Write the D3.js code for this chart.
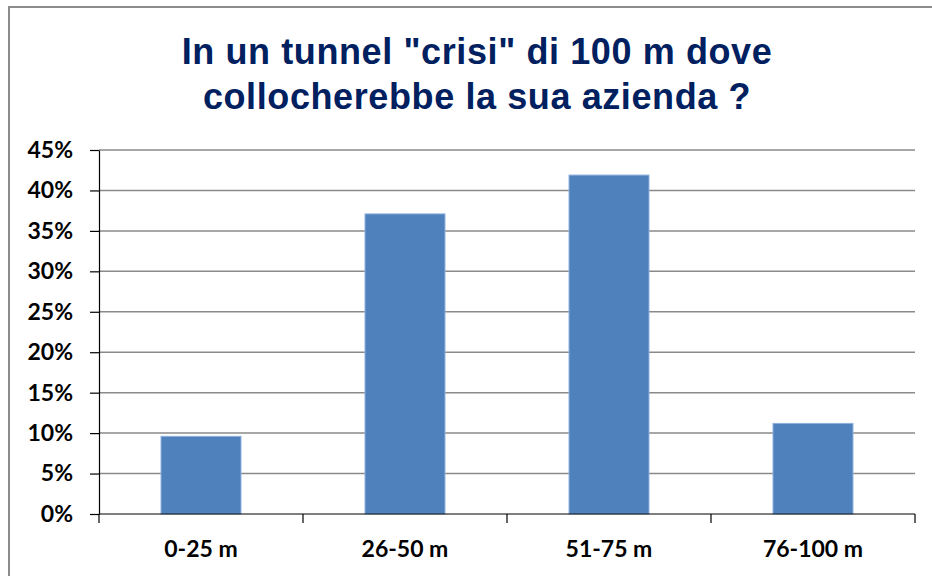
<!DOCTYPE html>
<head>
<meta charset="utf-8">
<title>Tunnel crisi</title>
<style>
body { margin: 0; background: #fff; }
.bar { fill: #4f81bd; stroke: #8eb0dc; stroke-width: 1; }
.grid line { stroke: #8a8a8a; stroke-width: 1.5; }
.axis text { font-family: Lato, "Liberation Sans", sans-serif; font-weight: bold; font-size: 23px; fill: #000; }
.axis path, .axis line { stroke: #000; stroke-width: 1.2; }
.title { font-family: "Liberation Sans", Arial, sans-serif; font-weight: bold; font-size: 36px; letter-spacing: 0.6px; fill: #002060; }
</style>
</head>
<body>
<script src="https://d3js.org/d3.v7.min.js"></script>
<script>

// data
var categories = ["0-25 m", "26-50 m", "51-75 m", "76-100 m"];
var shares = [0.096, 0.371, 0.419, 0.112];
var yTicks = [0, 0.05, 0.10, 0.15, 0.20, 0.25, 0.30, 0.35, 0.40, 0.45];
var titleLines = ["In un tunnel \"crisi\" di 100 m dove", "collocherebbe la sua azienda ?"];

var W = 932, H = 576;
var margin = {top: 150, right: 17, bottom: 62, left: 99},
    width = W - margin.left - margin.right,
    height = H - margin.top - margin.bottom;

var svg = d3.select("body").append("svg")
    .attr("width", W)
    .attr("height", H);

// outer frame
svg.append("rect")
    .attr("x", 9).attr("y", 7)
    .attr("width", W).attr("height", H)
    .attr("fill", "none")
    .attr("stroke", "#8c8c8c")
    .attr("stroke-width", 2);

// title
svg.append("text")
    .attr("class", "title")
    .attr("text-anchor", "middle")
    .selectAll("tspan")
    .data(titleLines)
  .enter().append("tspan")
    .attr("x", 477)
    .attr("y", function(d, i) { return 64 + i * 45; })
    .text(function(d) { return d; });

var g = svg.append("g")
    .attr("transform", "translate(" + margin.left + "," + margin.top + ")");

var x = d3.scaleBand()
    .domain(categories)
    .range([0, width]);
var xBar = d3.scaleBand()
    .domain(categories)
    .range([0, width])
    .paddingInner(0.608)
    .paddingOuter(0.304);
var y = d3.scaleLinear()
    .domain([0, 0.45])
    .range([height, 0]);

// gridlines
g.append("g")
    .attr("class", "grid")
    .selectAll("line")
    .data(yTicks.slice(1))
  .enter().append("line")
    .attr("x1", 0).attr("x2", width)
    .attr("y1", function(d) { return y(d); })
    .attr("y2", function(d) { return y(d); });

// bars
g.selectAll(".bar")
    .data(shares)
  .enter().append("rect")
    .attr("class", "bar")
    .attr("x", function(d, i) { return xBar(categories[i]); })
    .attr("width", xBar.bandwidth())
    .attr("y", function(d) { return y(d); })
    .attr("height", function(d) { return height - y(d); });

// y axis
g.append("g")
    .attr("class", "axis")
    .call(d3.axisLeft(y).tickValues(yTicks).tickFormat(d3.format(".0%")).tickSize(9).tickSizeOuter(0).tickPadding(17));

// x axis: ticks on the band boundaries
var xa = g.append("g")
    .attr("class", "axis")
    .attr("transform", "translate(0," + height + ")");
xa.append("line").attr("x1", 0).attr("x2", width);
xa.selectAll(".tk")
    .data(categories.concat([null]))
  .enter().append("line")
    .attr("x1", function(d, i) { return i * x.step(); })
    .attr("x2", function(d, i) { return i * x.step(); })
    .attr("y1", 0).attr("y2", 9);
xa.selectAll("text")
    .data(categories)
  .enter().append("text")
    .attr("x", function(d) { return x(d) + x.bandwidth() / 2; })
    .attr("y", 43)
    .attr("text-anchor", "middle")
    .text(function(d) { return d; });

</script>
</body>
</html>
